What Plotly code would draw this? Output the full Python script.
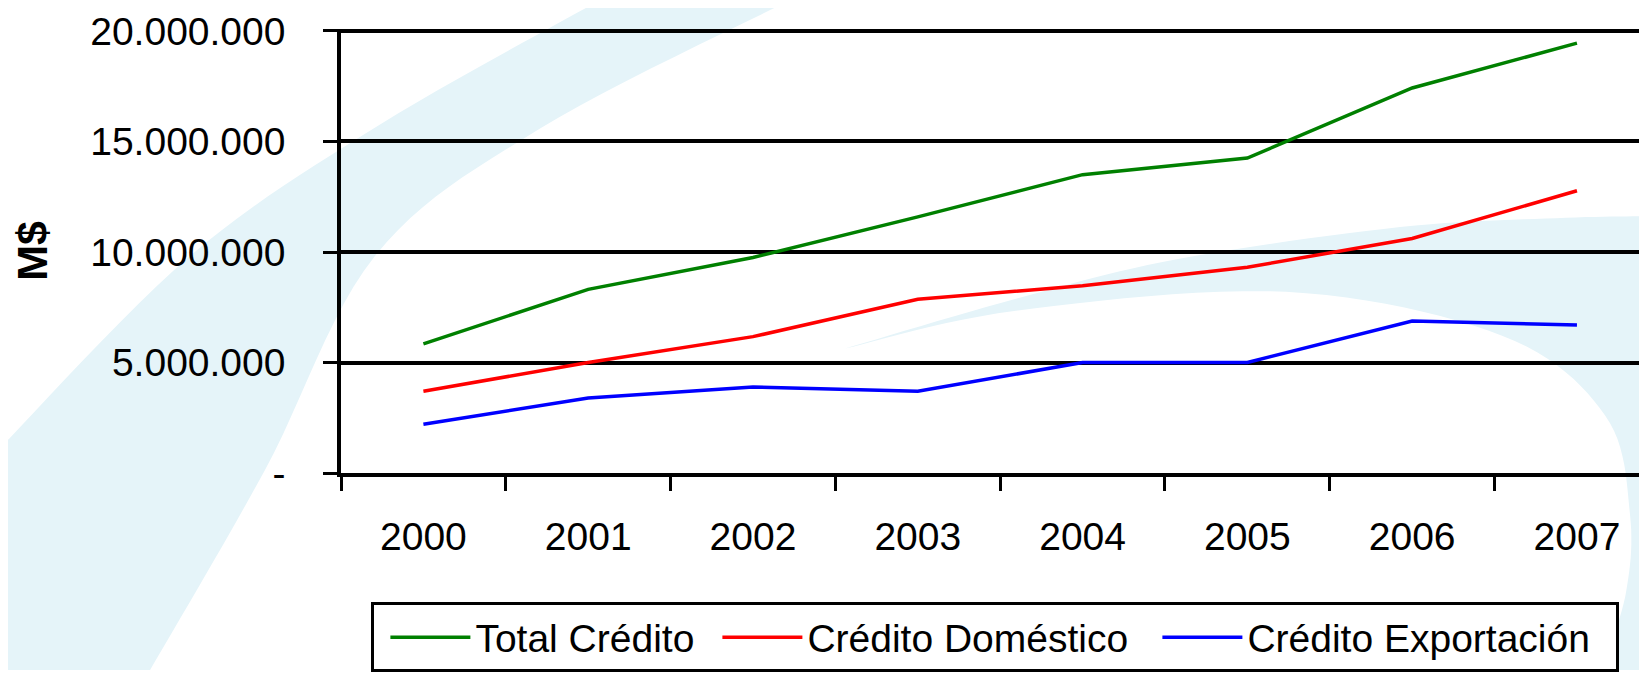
import plotly.graph_objects as go

# chart values (M$)
years = ["2000", "2001", "2002", "2003", "2004", "2005", "2006", "2007"]
total_credito = [5840000, 8310000, 9750000, 11590000, 13500000, 14250000, 17420000, 19450000]
credito_domestico = [3700000, 5000000, 6170000, 7860000, 8470000, 9310000, 10610000, 12770000]
credito_exportacion = [2210000, 3390000, 3890000, 3700000, 5000000, 5000000, 6880000, 6700000]

y_ticks = [0, 5000000, 10000000, 15000000, 20000000]
y_ticktext = ["-", "5.000.000", "10.000.000", "15.000.000", "20.000.000"]

# the page body has an 8px margin, so the figure is drawn 8px in from the window edge
OFF = 8
W, H = 1647 - OFF, 673 - OFF
M_L, M_R, M_T, M_B = 333, 0, 21, 198
Y_TOP = 20000000 + (23 - M_T) * 20000000 / 444   # 20M gridline sits just under the top edge
FONT = "Liberation Sans, Arial, sans-serif"


def paper(x, y):
    """window pixel -> paper coordinates (decorative background only)"""
    x, y = x - OFF, y - OFF
    return (x - M_L) / (W - M_L - M_R), (H - M_B - y) / (H - M_T - M_B)


def smooth(pts, n=12):
    """catmull-rom through the given pixel points"""
    out = []
    p = [pts[0]] + pts + [pts[-1]]
    for i in range(1, len(p) - 2):
        p0, p1, p2, p3 = p[i - 1], p[i], p[i + 1], p[i + 2]
        for k in range(n):
            t = k / n
            t2, t3 = t * t, t * t * t
            out.append(tuple(
                0.5 * (2 * p1[j] + (-p0[j] + p2[j]) * t
                       + (2 * p0[j] - 5 * p1[j] + 4 * p2[j] - p3[j]) * t2
                       + (-p0[j] + 3 * p1[j] - 3 * p2[j] + p3[j]) * t3)
                for j in range(2)))
    out.append(pts[-1])
    return out


def area_path(pts):
    coords = [paper(x, y) for x, y in pts]
    return "M " + " L ".join(f"{a:.4f},{b:.4f}" for a, b in coords) + " Z"


fig = go.Figure()

series = [
    ("Total Crédito", total_credito, "#008000", 237),
    ("Crédito Doméstico", credito_domestico, "#ff0000", 345),
    ("Crédito Exportación", credito_exportacion, "#0000ff", 363),
]
for name, vals, color, lw in series:
    fig.add_trace(go.Scatter(
        x=years,
        y=vals,
        mode="lines",
        name=name,
        line=dict(color=color, width=3.5),
        legendwidth=lw,
    ))

# light blue swooshes in the background
band_outer = smooth([(0, 450), (190, 257), (380, 125), (600, 0)])
band_inner = smooth([(790, 0), (540, 129), (375, 257), (265, 472), (150, 673)])
band = band_outer + band_inner + [(0, 673)]

cres_top = smooth([(845, 350), (1016, 300), (1178, 260), (1400, 228), (1556, 219), (1647, 217)])
cres_inner = smooth([(1600, 673), (1625, 600), (1630, 517), (1605, 417),
                     (1502, 337), (1286, 293), (1016, 312), (845, 350)])
crescent = cres_top + [(1647, 673)] + cres_inner

shapes = [
    dict(type="path", xref="paper", yref="paper", path=area_path(band),
         fillcolor="#e5f4f9", line=dict(width=0), layer="below"),
    dict(type="path", xref="paper", yref="paper", path=area_path(crescent),
         fillcolor="#e5f4f9", line=dict(width=0), layer="below"),
]

lx, ly = paper(371, 605)

fig.update_layout(
    width=W,
    height=H,
    margin=dict(l=M_L, r=M_R, t=M_T, b=M_B, pad=0),
    paper_bgcolor="white",
    plot_bgcolor="rgba(0,0,0,0)",
    font=dict(family=FONT, size=39, color="black"),
    shapes=shapes,
    showlegend=True,
    legend=dict(
        orientation="h",
        x=lx, y=ly, xanchor="left", yanchor="top",
        bordercolor="black", borderwidth=3,
        bgcolor="white",
        font=dict(size=39),
        itemwidth=80,
        # empty left-side title, only to nudge the entries off the border
        title=dict(text="&nbsp;", side="left", font=dict(size=5)),
    ),
    xaxis=dict(
        type="category",
        range=[-0.5, 7.425],
        showline=True, linecolor="black", linewidth=3.5,
        ticks="outside", tickson="boundaries", ticklen=14, tickwidth=3, tickcolor="black",
        showgrid=False,
        ticklabelstandoff=26,
    ),
    yaxis=dict(
        range=[0, Y_TOP],
        tickvals=y_ticks, ticktext=y_ticktext,
        showline=True, linecolor="black", linewidth=3.5,
        ticks="outside", ticklen=14, tickwidth=3, tickcolor="black",
        showgrid=True, gridcolor="black", gridwidth=3.5,
        zeroline=False,
        ticklabelstandoff=30,
        title=dict(text="<b>M$</b>", standoff=40, font=dict(size=43)),
    ),
)

fig.write_html("out.html")
